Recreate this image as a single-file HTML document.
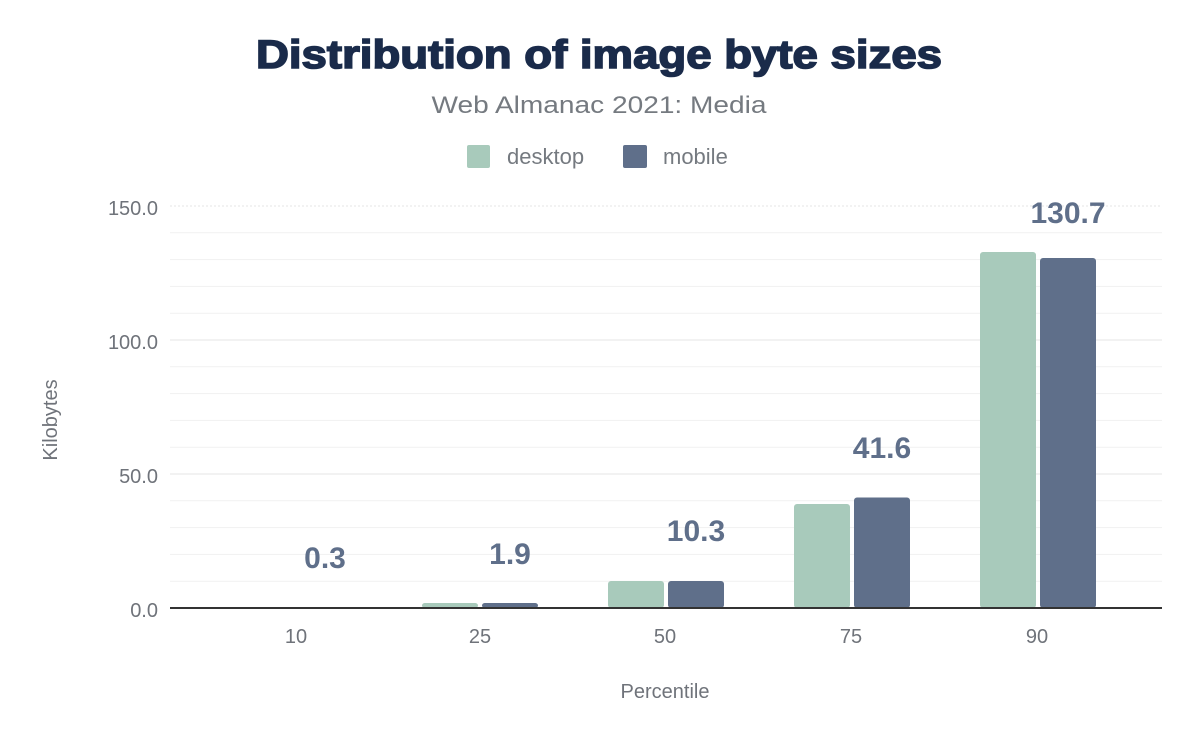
<!DOCTYPE html>
<html><head><meta charset="utf-8"><style>
html,body{margin:0;padding:0;background:#fff;}
svg{display:block;font-family:"Liberation Sans",Arial,sans-serif;}
</style></head><body>
<svg width="1200" height="742" viewBox="0 0 1200 742" xmlns="http://www.w3.org/2000/svg">
<rect width="1200" height="742" fill="#fff"/>
<text x="599" y="68" text-anchor="middle" font-size="40" font-weight="900" fill="#1a2b4a" textLength="686" lengthAdjust="spacingAndGlyphs" stroke="#1a2b4a" stroke-width="1.6">Distribution of image byte sizes</text>
<text x="599" y="113" text-anchor="middle" font-size="24" fill="#757a80" textLength="335" lengthAdjust="spacingAndGlyphs">Web Almanac 2021: Media</text>
<rect x="467" y="145" width="23" height="23" rx="2" fill="#a8cabb"/>
<text x="507" y="164" font-size="22" fill="#757a80">desktop</text>
<rect x="623" y="145" width="24" height="23" rx="2" fill="#5f6f8a"/>
<text x="663" y="164" font-size="22" fill="#757a80">mobile</text>
<g stroke="#f1f1f1" stroke-width="1">
<line x1="170" x2="1162" y1="581.2" y2="581.2"/><line x1="170" x2="1162" y1="554.4" y2="554.4"/><line x1="170" x2="1162" y1="527.6" y2="527.6"/><line x1="170" x2="1162" y1="500.8" y2="500.8"/>
<line x1="170" x2="1162" y1="447.2" y2="447.2"/><line x1="170" x2="1162" y1="420.4" y2="420.4"/><line x1="170" x2="1162" y1="393.6" y2="393.6"/><line x1="170" x2="1162" y1="366.8" y2="366.8"/>
<line x1="170" x2="1162" y1="313.2" y2="313.2"/><line x1="170" x2="1162" y1="286.4" y2="286.4"/><line x1="170" x2="1162" y1="259.6" y2="259.6"/><line x1="170" x2="1162" y1="232.8" y2="232.8"/>
</g>
<g stroke="#e4e4e4" stroke-width="1">
<line x1="170" x2="1162" y1="474" y2="474"/><line x1="170" x2="1162" y1="340" y2="340"/><line x1="170" x2="1162" y1="206" y2="206" stroke-dasharray="2,2"/>
</g>
<g font-size="20" fill="#6f737a" text-anchor="end">
<text x="158" y="215">150.0</text><text x="158" y="349">100.0</text><text x="158" y="483">50.0</text><text x="158" y="617">0.0</text>
</g>
<text transform="translate(57,420) rotate(-90)" text-anchor="middle" font-size="20" fill="#6f737a">Kilobytes</text>
<g fill="#a8cabb">
<rect x="236" y="607.2" width="56" height="0.8"/>
<rect x="422" y="603" width="56" height="5" rx="3"/>
<rect x="608" y="581" width="56" height="27" rx="3"/>
<rect x="794" y="504" width="56" height="104" rx="3"/>
<rect x="980" y="252" width="56" height="356" rx="3"/>
</g>
<g fill="#5f6f8a">
<rect x="298" y="607.2" width="56" height="0.8"/>
<rect x="482" y="603" width="56" height="5" rx="3"/>
<rect x="668" y="581" width="56" height="27" rx="3"/>
<rect x="854" y="497.5" width="56" height="110.5" rx="3"/>
<rect x="1040" y="258" width="56" height="350" rx="3"/>
</g>
<line x1="170" x2="1162" y1="608" y2="608" stroke="#333" stroke-width="2"/>
<g font-size="30" font-weight="bold" fill="#5f6f8a" text-anchor="middle">
<text x="325" y="568">0.3</text>
<text x="510" y="564">1.9</text>
<text x="696" y="541">10.3</text>
<text x="882" y="458">41.6</text>
<text x="1068" y="223">130.7</text>
</g>
<g font-size="20" fill="#6f737a" text-anchor="middle">
<text x="296" y="643">10</text><text x="480" y="643">25</text><text x="665" y="643">50</text><text x="851" y="643">75</text><text x="1037" y="643">90</text>
</g>
<text x="665" y="698" text-anchor="middle" font-size="20" fill="#6f737a">Percentile</text>
</svg>
</body></html>
